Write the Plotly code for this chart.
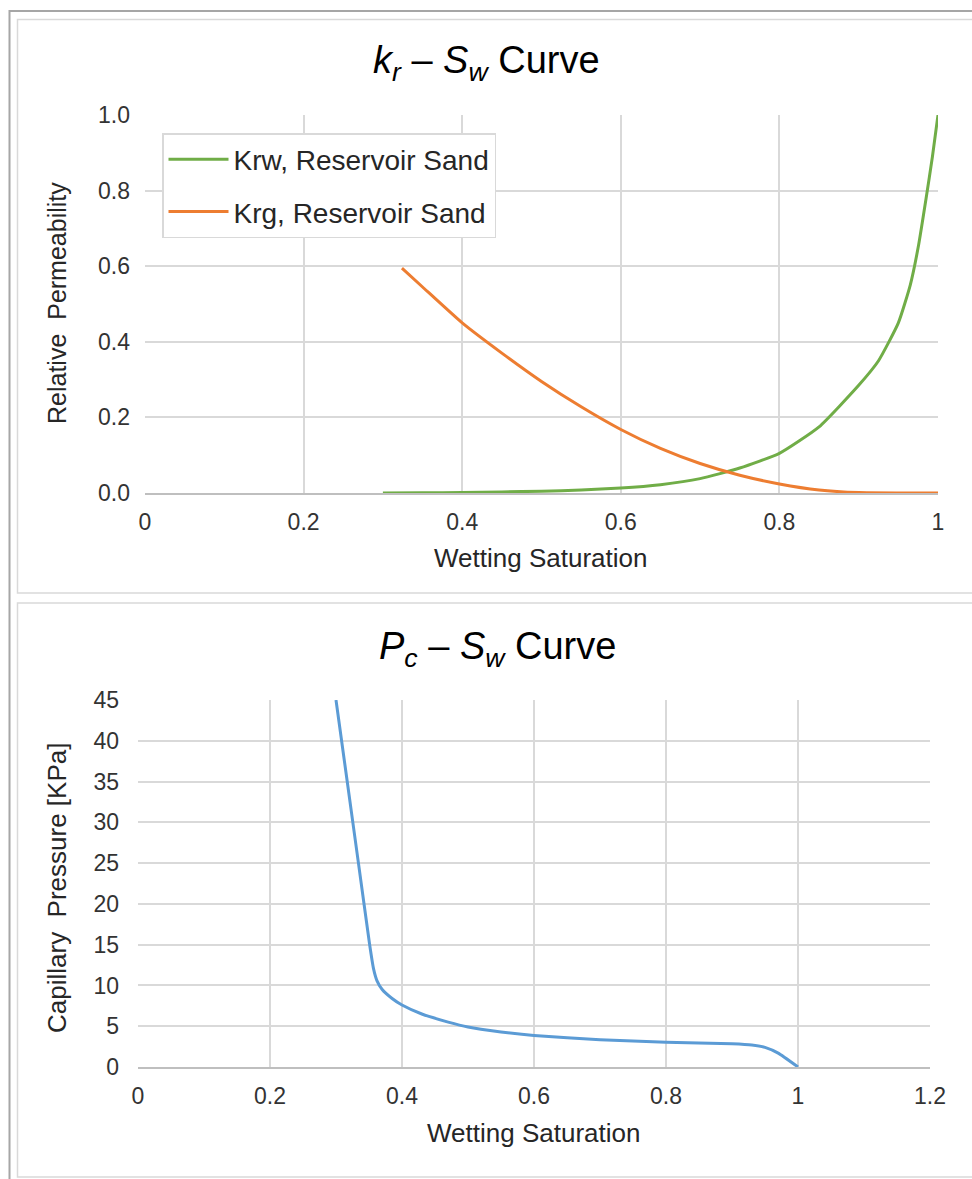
import plotly.graph_objects as go

W, H = 972, 1179

# ---- data ----
sw_krw = [0.30, 0.35, 0.40, 0.45, 0.50, 0.55, 0.60, 0.65, 0.70, 0.75, 0.80, 0.85, 0.90, 0.925, 0.95, 0.965, 0.975, 0.985, 0.993, 1.00]
krw = [0.0, 0.0005, 0.0015, 0.0028, 0.0047, 0.008, 0.013, 0.022, 0.038, 0.066, 0.105, 0.175, 0.285, 0.35, 0.45, 0.55, 0.65, 0.78, 0.89, 1.00]

sw_krg = [0.324, 0.35, 0.40, 0.45, 0.50, 0.55, 0.60, 0.65, 0.70, 0.75, 0.80, 0.85, 0.90, 0.95, 1.00]
krg = [0.595, 0.545, 0.45, 0.37, 0.295, 0.228, 0.168, 0.118, 0.078, 0.047, 0.024, 0.008, 0.001, 0.0, 0.0]

sw_pc = [0.300, 0.317, 0.334, 0.351, 0.357, 0.362, 0.370, 0.385, 0.40, 0.43, 0.47, 0.50, 0.55, 0.60, 0.70, 0.80, 0.90, 0.93, 0.95, 0.97, 1.00]
pc = [45.0, 35.0, 25.0, 15.0, 12.0, 10.6, 9.5, 8.4, 7.6, 6.5, 5.5, 4.9, 4.3, 3.85, 3.35, 3.05, 2.85, 2.7, 2.4, 1.7, 0.0]

top_xticks = [0, 0.2, 0.4, 0.6, 0.8, 1.0]
top_xlabels = ["0", "0.2", "0.4", "0.6", "0.8", "1"]
top_yticks = [0, 0.2, 0.4, 0.6, 0.8, 1.0]
top_ylabels = ["0.0", "0.2", "0.4", "0.6", "0.8", "1.0"]
bot_xticks = [0, 0.2, 0.4, 0.6, 0.8, 1.0, 1.2]
bot_xlabels = ["0", "0.2", "0.4", "0.6", "0.8", "1", "1.2"]
bot_yticks = list(range(0, 50, 5))

FONT = "Liberation Sans, Arial, sans-serif"
GRID = "#d9d9d9"
TICKC = "#333333"
TXT = "#262626"


def px(x):
    return x / W


def py(y):
    return 1 - y / H


fig = go.Figure()
fig.add_trace(go.Scatter(x=sw_krw, y=krw, mode="lines", name="Krw, Reservoir Sand",
                         line=dict(color="#70ad47", width=3, shape="spline", smoothing=0.5),
                         xaxis="x", yaxis="y", legendgroup="a"))
fig.add_trace(go.Scatter(x=sw_krg, y=krg, mode="lines", name="Krg, Reservoir Sand",
                         line=dict(color="#ed7d31", width=3, shape="spline", smoothing=0.5),
                         xaxis="x", yaxis="y", legendgroup="b"))
fig.add_trace(go.Scatter(x=sw_pc, y=pc, mode="lines", name="Pc",
                         line=dict(color="#5b9bd5", width=3, shape="spline", smoothing=0.4),
                         xaxis="x2", yaxis="y2", showlegend=False))

common_x = dict(showgrid=True, gridcolor=GRID, gridwidth=1.5, zeroline=False,
                showline=True, linecolor="#bfbfbf", linewidth=1.5, mirror=False,
                ticks="", tickfont=dict(family=FONT, size=23, color=TICKC),
                ticklabelstandoff=8, fixedrange=True, automargin=False)
common_y = dict(showgrid=True, gridcolor=GRID, gridwidth=1.5, zeroline=False,
                showline=False, ticks="", tickfont=dict(family=FONT, size=23, color=TICKC),
                ticklabelstandoff=14, fixedrange=True, automargin=False)

fig.update_layout(
    width=W, height=H, margin=dict(l=0, r=0, t=0, b=0, pad=0, autoexpand=False),
    paper_bgcolor="white", plot_bgcolor="white",
    xaxis=dict(common_x, domain=[px(145), px(938)], range=[0, 1], anchor="y",
               tickvals=top_xticks, ticktext=top_xlabels),
    yaxis=dict(common_y, domain=[py(493), py(115)], range=[0, 1], anchor="x",
               tickvals=top_yticks, ticktext=top_ylabels),
    xaxis2=dict(common_x, domain=[px(138), px(930)], range=[0, 1.2], anchor="y2",
                tickvals=bot_xticks, ticktext=bot_xlabels),
    yaxis2=dict(common_y, domain=[py(1067), py(700)], range=[0, 45], anchor="x2",
                tickvals=bot_yticks, ticklabelstandoff=18),
    showlegend=True,
    legend=dict(x=px(162), y=py(133), xanchor="left", yanchor="top",
                bgcolor="white", bordercolor=GRID, borderwidth=1.5,
                font=dict(family=FONT, size=28, color=TXT),
                tracegroupgap=13, itemwidth=60),
)

shapes = []
# outer darker frame (left and top)
shapes.append(dict(type="line", xref="paper", yref="paper", x0=px(9.5), x1=px(9.5), y0=py(10), y1=0,
                   line=dict(color="#a6a6a6", width=2)))
shapes.append(dict(type="line", xref="paper", yref="paper", x0=px(9.5), x1=1, y0=py(11), y1=py(11),
                   line=dict(color="#a6a6a6", width=2)))
# chart boxes
shapes.append(dict(type="rect", xref="paper", yref="paper", x0=px(17.5), x1=1.01, y0=py(593), y1=py(19.5),
                   line=dict(color=GRID, width=1.5)))
shapes.append(dict(type="rect", xref="paper", yref="paper", x0=px(17.5), x1=1.01, y0=py(1177), y1=py(603),
                   line=dict(color=GRID, width=1.5)))
fig.update_layout(shapes=shapes)

ann = []
ann.append(dict(text="<i>k<sub>r</sub></i> – <i>S<sub>w</sub></i> Curve", x=px(487), y=py(63),
                xref="paper", yref="paper", showarrow=False, xanchor="center", yanchor="middle",
                font=dict(family=FONT, size=38, color="#000000")))
ann.append(dict(text="<i>P<sub>c</sub></i> – <i>S<sub>w</sub></i> Curve", x=px(497), y=py(649),
                xref="paper", yref="paper", showarrow=False, xanchor="center", yanchor="middle",
                font=dict(family=FONT, size=38, color="#000000")))
ann.append(dict(text="Wetting Saturation", x=px(540), y=py(558), xref="paper", yref="paper",
                showarrow=False, xanchor="center", yanchor="middle",
                font=dict(family=FONT, size=26, color=TXT)))
ann.append(dict(text="Wetting Saturation", x=px(533), y=py(1133), xref="paper", yref="paper",
                showarrow=False, xanchor="center", yanchor="middle",
                font=dict(family=FONT, size=26, color=TXT)))
ann.append(dict(text="Relative  Permeability", x=px(57), y=py(303), xref="paper", yref="paper",
                showarrow=False, xanchor="center", yanchor="middle", textangle=-90,
                font=dict(family=FONT, size=25, color=TXT)))
ann.append(dict(text="Capillary  Pressure [KPa]", x=px(57), y=py(888), xref="paper", yref="paper",
                showarrow=False, xanchor="center", yanchor="middle", textangle=-90,
                font=dict(family=FONT, size=26, color=TXT)))
fig.update_layout(annotations=ann)

fig.write_html("out.html")
